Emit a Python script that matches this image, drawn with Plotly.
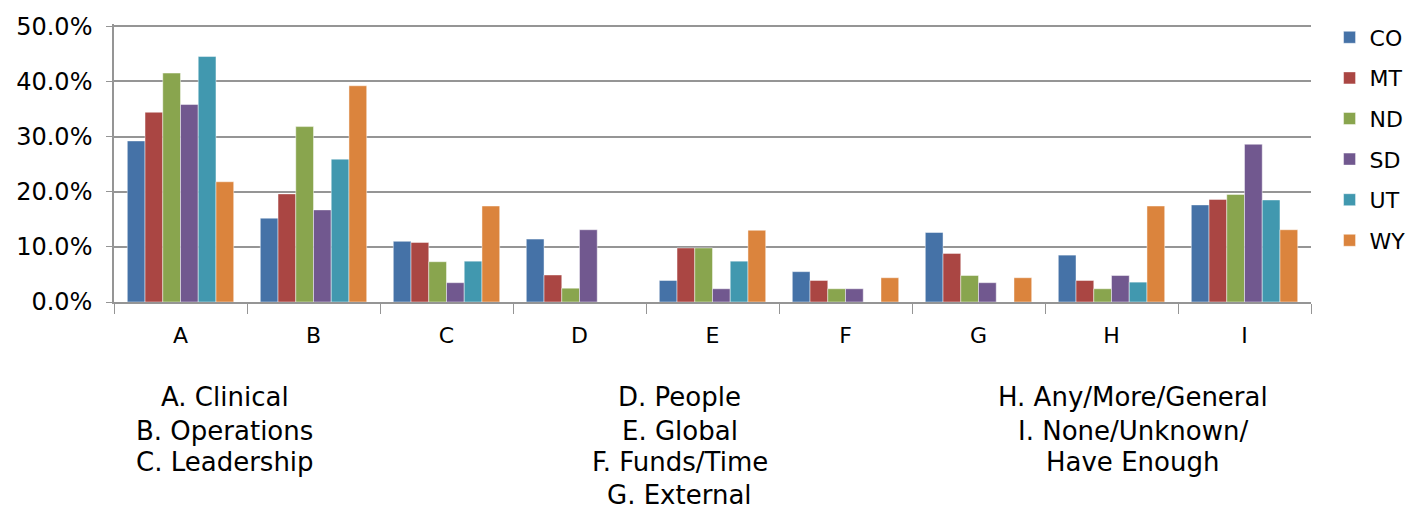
import plotly.graph_objects as go

categories = ["A", "B", "C", "D", "E", "F", "G", "H", "I"]

co = [0.292, 0.152, 0.110, 0.114, 0.039, 0.055, 0.126, 0.085, 0.176]
mt = [0.344, 0.196, 0.108, 0.049, 0.098, 0.039, 0.088, 0.039, 0.186]
nd = [0.415, 0.318, 0.073, 0.025, 0.098, 0.024, 0.048, 0.024, 0.195]
sd = [0.358, 0.167, 0.035, 0.131, 0.024, 0.024, 0.035, 0.048, 0.286]
ut = [0.445, 0.259, 0.074, None, 0.074, None, None, 0.036, 0.185]
wy = [0.218, 0.392, 0.174, None, 0.130, 0.044, 0.044, 0.174, 0.131]

series = [("CO", co, "#4572A7"), ("MT", mt, "#AA4643"), ("ND", nd, "#89A54E"),
          ("SD", sd, "#71588F"), ("UT", ut, "#4198AF"), ("WY", wy, "#DB843D")]

# category key shown under the chart, three columns
key_cols = [
    ["A. Clinical", "B. Operations", "C. Leadership"],
    ["D. People", "E. Global", "F. Funds/Time", "G. External"],
    ["H. Any/More/General", "I. None/Unknown/", "Have Enough"],
]

fig = go.Figure()
for name, vals, color in series:
    fig.add_trace(go.Bar(x=categories, y=vals, name=name, legendgroup=name,
                         marker=dict(color=color, line=dict(color="rgba(255,255,255,0.45)", width=1))))

font = "Verdana, DejaVu Sans, sans-serif"
col_x = [0.0927, 0.4725, 0.851]
line_y = [-0.343, -0.464, -0.577, -0.695]
annotations = []
for cx, lines in zip(col_x, key_cols):
    for i, txt in enumerate(lines):
        annotations.append(dict(x=cx, y=line_y[i], xref="paper", yref="paper", text=txt,
                                showarrow=False, xanchor="center", yanchor="middle",
                                font=dict(size=26, color="#000000", family=font)))

# page body has an 8px margin, so the figure is 8px smaller each way
fig.update_layout(
    width=1411, height=502,
    margin=dict(l=106, r=107, t=8, b=208),
    paper_bgcolor="white", plot_bgcolor="white",
    barmode="group", bargap=0.2, bargroupgap=0,
    font=dict(family=font, size=22, color="#000000"),
    legend=dict(x=1.0155, y=1.027, xanchor="left", yanchor="top", traceorder="grouped",
                tracegroupgap=9, font=dict(size=22), itemwidth=30),
    annotations=annotations,
    showlegend=True,
)
fig.update_yaxes(range=[0, 0.504], tickvals=[0, 0.1, 0.2, 0.3, 0.4, 0.5], tickformat=".1%",
                 showgrid=True, gridcolor="#959595", gridwidth=1.5, showline=True,
                 linecolor="#959595", linewidth=1.5, ticks="outside", ticklen=6,
                 tickcolor="#959595", tickfont=dict(size=24), ticklabelstandoff=9,
                 zeroline=False, automargin=False)
fig.update_xaxes(showline=True, linecolor="#959595", linewidth=1.5, ticks="outside",
                 tickson="boundaries", ticklen=10, tickcolor="#959595",
                 tickfont=dict(size=22), ticklabelstandoff=13, automargin=False)

fig.write_html("out.html")
